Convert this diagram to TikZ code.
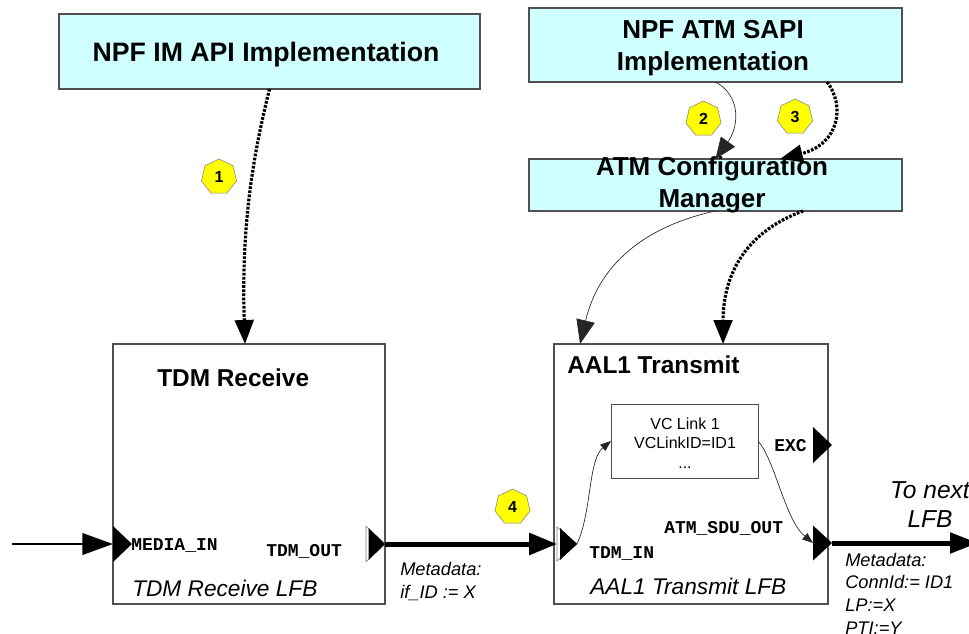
\documentclass[tikz,border=0pt]{standalone}
\usepackage{fontspec}
\setmainfont{Liberation Sans}
\setmonofont{Liberation Mono}
\usetikzlibrary{arrows.meta,shapes.geometric,calc}
\definecolor{boxcyan}{RGB}{208,255,255}
\definecolor{edgegray}{RGB}{80,80,80}
\definecolor{badgeyellow}{RGB}{255,255,0}
\begin{document}
\begin{tikzpicture}[x=0.75pt,y=-0.75pt,
  cyanbox/.style={draw=edgegray, line width=0.9pt, fill=boxcyan, inner sep=0, outer sep=0},
  lfbbox/.style={draw=edgegray, line width=0.8pt, fill=white, inner sep=0, outer sep=0},
  bigtxt/.style={font=\fontsize{19.5}{24}\selectfont\bfseries, inner sep=0, align=center},
  titletxt/.style={font=\fontsize{18.3}{22}\selectfont\bfseries, inner sep=0},
  porttxt/.style={font=\fontsize{13.5}{16}\selectfont\ttfamily\bfseries, inner sep=0},
  lfbname/.style={font=\fontsize{17}{20}\selectfont\itshape, inner sep=0},
  metatxt/.style={font=\fontsize{13.7}{17}\selectfont\itshape, inner sep=0, align=left},
  vctxt/.style={font=\fontsize{12}{14.6}\selectfont, inner sep=0, align=center},
  port/.style={isosceles triangle, isosceles triangle stretches, fill=black, inner sep=0, outer sep=0, minimum height=14.25pt, minimum width=27pt},
  portghost/.style={port, fill=white, draw=gray, line width=0.5pt},
  badge/.style={regular polygon, regular polygon sides=7, minimum size=27pt, fill=badgeyellow, draw=gray, line width=0.4pt, inner sep=0, font=\fontsize{12}{14}\selectfont\bfseries},
  dotarrow/.style={line width=2.4pt, dash pattern=on 2pt off 1.1pt, -{Triangle[length=18pt,width=14pt]}},
  thinarrow/.style={line width=0.5pt, draw=black!85},
  flow/.style={line width=#1, -{Triangle[length=21pt,width=16pt]}},
]
\useasboundingbox (0,0) rectangle (969,634);

% upper boxes
\node[cyanbox, minimum width=315.75pt, minimum height=56.25pt] (imapi) at (269.5,51.5) {};
\node[bigtxt, font=\fontsize{20}{24}\selectfont\bfseries, anchor=base] (imapitxt) at (266,62) {NPF IM API Implementation};
\node[cyanbox, minimum width=279.75pt, minimum height=55.5pt] (sapi) at (715.5,45) {};
\node[bigtxt, anchor=base] (sapitxt) at (713,71) {NPF ATM SAPI\\Implementation};
\node[cyanbox, minimum width=279.75pt, minimum height=39pt] (acm) at (715.5,185) {};
\node[bigtxt, anchor=base] (acmtxt) at (712,208) {ATM Configuration\\Manager};

% LFB boxes
\node[lfbbox, minimum width=204pt, minimum height=195pt] (tdm) at (249,474) {};
\node[lfbbox, minimum width=205.5pt, minimum height=195pt] (aal) at (691,474) {};
\node[lfbbox, line width=0.7pt, minimum width=110.25pt, minimum height=55.5pt] (vc) at (684.5,441) {};
\node[vctxt, anchor=base] (vctxt) at (685,468) {VC Link 1\\VCLinkID=ID1\\...};

\node[titletxt, anchor=base west] (tdmtitle) at (157,386) {TDM Receive};
\node[titletxt, anchor=base west] (aaltitle) at (567,373) {AAL1 Transmit};
\node[lfbname, anchor=base west] (tdmname) at (132,596) {TDM Receive LFB};
\node[lfbname, anchor=base west] (aalname) at (590,594) {AAL1 Transmit LFB};

% ports
\node[port, anchor=lower side] (pmi) at (113,544) {};
\node[portghost, minimum width=26.5pt, anchor=lower side] (ptdogh) at (366,544) {};
\node[port, minimum height=12.4pt, minimum width=24pt, anchor=lower side] (ptdo) at (368.5,544) {};
\node[portghost, minimum width=25.5pt, minimum height=15pt, anchor=lower side] (ptdigh) at (557,544) {};
\node[port, minimum height=12.75pt, minimum width=24pt, anchor=lower side] (ptdi) at (560,544) {};
\node[port, anchor=lower side] (pexc) at (813,445) {};
\node[port, minimum width=26.25pt, anchor=lower side] (psdu) at (813,543) {};

\node[porttxt, anchor=base west] (lmi) at (131,550) {MEDIA\_IN};
\node[porttxt, anchor=base west] (ltdo) at (266,556) {TDM\_OUT};
\node[porttxt, anchor=base west] (ltdi) at (589,558) {TDM\_IN};
\node[porttxt, anchor=base west] (lsdu) at (664,533) {ATM\_SDU\_OUT};
\node[porttxt, anchor=base west] (lexc) at (774,451) {EXC};

% metadata and labels
\node[metatxt, anchor=base west] (meta1) at (400,598) {Metadata:\\if\_ID := X};
\node[metatxt, anchor=base west] (meta2) at (845,634) {Metadata:\\ConnId:= ID1\\LP:=X\\PTI:=Y};
\node[font=\fontsize{18.4}{21.75}\selectfont\itshape, inner sep=0, align=center, anchor=base] (tonext) at (930,527) {To next\\LFB};

% badges
\node[badge] (b1) at (219,177) {1};
\node[badge] (b2) at (703.5,119) {2};
\node[badge] (b3) at (795,117) {3};
\node[badge] (b4) at (512.5,507) {4};

% connectors
\coordinate (srcin) at (12,544);
\coordinate (sinkout) at (978,543);
\draw[flow=2.2pt, -{Triangle[length=23pt,width=16pt]}] (srcin) -- (pmi.lower side);
\draw[flow=3.75pt] (ptdo.apex) -- (ptdigh.lower side);
\draw[flow=3.75pt, -{Triangle[length=21pt,width=15pt]}] (psdu.apex) -- (sinkout);

\draw[dotarrow] (imapi.south) .. controls +(-15,61) and +(-4,-124) .. ([xshift=-3pt]tdm.north);
\draw[thinarrow, -{Triangle[length=16pt,width=13pt]}] (sapi.south) .. controls +(24.5,13) and +(24.5,-34) .. (acm.north);
\draw[dotarrow, -{Triangle[length=17pt,width=13pt]}] ($(sapi.south west)!0.799!(sapi.south east)$) .. controls +(18,23) and +(60,-15) .. ($(acm.north west)!0.673!(acm.north east)$);
\draw[thinarrow, -{Triangle[length=18pt,width=14pt]}] (acm.south) .. controls +(-65,14) and +(20,-84) .. ($(aal.north west)!0.095!(aal.north east)$);
\draw[dotarrow] ($(acm.south west)!0.735!(acm.south east)$) .. controls +(-53,19) and +(0,-74) .. ($(aal.north west)!0.617!(aal.north east)$);
\draw[thinarrow, -{Triangle[length=8pt,width=6pt]}] (ptdi.apex) .. controls +(15,-33) and +(-23,19) .. (vc.west);
\draw[thinarrow, -{Triangle[length=8pt,width=6pt]}] (vc.east) .. controls +(17,19) and +(-28,-23) .. (psdu.lower side);
\end{tikzpicture}
\end{document}
